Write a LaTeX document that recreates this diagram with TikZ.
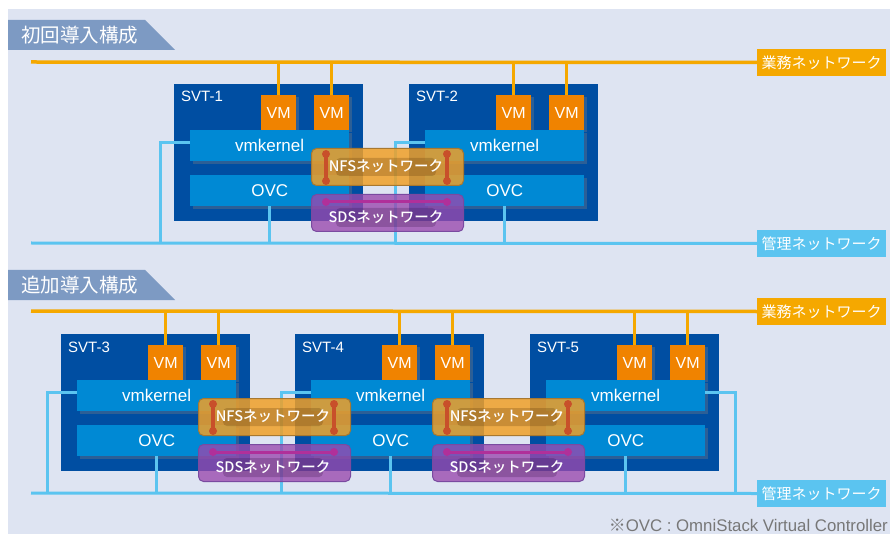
\documentclass[tikz,border=0pt]{standalone}
\usepackage{fontspec}
\setmainfont{Liberation Sans}
\newfontfamily\cjk{Noto Sans CJK JP}
\newfontfamily\cjkb{Noto Sans CJK JP Medium}
\usetikzlibrary{shadows,calc}
\definecolor{bgc}{HTML}{DEE4F2}
\definecolor{tabc}{HTML}{7D9AC3}
\definecolor{bizc}{HTML}{F5A800}
\definecolor{mgc}{HTML}{5BC4F0}
\definecolor{svtc}{HTML}{004EA2}
\definecolor{vmc}{HTML}{F08300}
\definecolor{kc}{HTML}{0089D4}
\definecolor{nfsc}{HTML}{F0A028}
\definecolor{nfsd}{HTML}{A87830}
\definecolor{nfsbar}{HTML}{C8502A}
\definecolor{sdsc}{HTML}{9A48AE}
\definecolor{sdsd}{HTML}{7A4AA0}
\definecolor{sdsbar}{HTML}{B0309A}
\definecolor{notec}{HTML}{777777}
\definecolor{nfsshade}{HTML}{4A2A00}
\definecolor{sdsshade}{HTML}{2A0A3A}
\tikzset{
  svtbox/.style={fill=svtc, inner sep=0, minimum width=189pt, minimum height=137pt, anchor=north west},
  vmbox/.style={fill=vmc, text=white, inner sep=0, minimum width=35pt, minimum height=35pt,
    anchor=north west, font=\fontsize{16}{16}\selectfont,
    drop shadow={shadow xshift=3pt, shadow yshift=-2pt, opacity=0.35}},
  kbox/.style={fill=kc, text=white, inner sep=0, minimum width=159pt, minimum height=31pt,
    anchor=north west, font=\fontsize{17}{16}\selectfont,
    drop shadow={shadow xshift=3pt, shadow yshift=-3pt, opacity=0.35}},
  svtlabel/.style={text=white, inner sep=0, anchor=base west, font=\fontsize{15}{15}\selectfont},
  bizline/.style={draw=bizc, line width=3.5pt},
  mgline/.style={draw=mgc, line width=3pt},
  bizlabel/.style={fill=bizc, text=white, inner sep=0, minimum width=129pt, minimum height=27pt,
    anchor=west, font=\cjk\fontsize{15}{15}\selectfont},
  mglabel/.style={fill=mgc, text=white, inner sep=0, minimum width=129pt, minimum height=27pt,
    anchor=west, font=\cjk\fontsize{15}{15}\selectfont},
  tabshape/.style={fill=tabc},
  tabtext/.style={text=white, inner sep=0, anchor=west, font=\cjk\fontsize{19.5}{19.5}\selectfont},
  nfsbox/.style={fill=nfsc, fill opacity=0.85, draw=nfsd, line width=1pt, rounded corners=5pt,
    inner sep=0, minimum width=152pt, minimum height=37pt, anchor=north west},
  sdsbox/.style={fill=sdsc, fill opacity=0.78, draw=sdsd, line width=1pt, rounded corners=5pt,
    inner sep=0, minimum width=152pt, minimum height=37pt, anchor=north west},
  nfsbarst/.style={draw=nfsbar, line width=3.5pt},
  sdsbarst/.style={draw=sdsbar, line width=3pt},
  nfsglow/.style={fill=nfsshade, opacity=0.22, rounded corners=4pt},
  sdsglow/.style={fill=sdsshade, opacity=0.22, rounded corners=4pt},
  nettext/.style={text=white, inner sep=0, font=\cjkb\fontsize{14.5}{14.5}\selectfont},
  notetext/.style={text=notec, inner sep=0, anchor=base east, font=\fontsize{16.8}{16.8}\selectfont}
}
\newcommand\svtunit[4]{%
  \begin{scope}[shift={(#2,#3)}]
    \node[svtbox] (#1) at (0,0) {};
    \node[svtlabel] (#1lab) at (7,18) {#4};
    \node[vmbox] (#1vma) at (87,11) {VM};
    \node[vmbox] (#1vmb) at (140,11) {VM};
    \node[kbox] (#1vmk) at (16,46) {vmkernel};
    \node[kbox] (#1ovc) at (16,91) {OVC};
  \end{scope}}
\newcommand\netpair[3]{%
  \begin{scope}[shift={(#2,#3)}]
    \node[nfsbox] (#1nfs) at (137,64) {};
    \node[sdsbox] (#1sds) at (137,110) {};
    \draw[nfsbarst] (152,70) -- (152,97);
    \draw[nfsbarst] (273,70) -- (273,97);
    \fill[nfsbar] (152,70) circle (4) (152,97) circle (4) (273,70) circle (4) (273,97) circle (4);
    \draw[sdsbarst] (152,118) -- (273,118);
    \fill[sdsbar] (152,118) circle (4) (273,118) circle (4);
    \fill[nfsglow] (162,74) rectangle (262,92);
    \fill[sdsglow] (162,124) rectangle (262,143);
    \node[nettext] (#1nfst) at (212,82.5) {NFSネットワーク};
    \node[nettext] (#1sdst) at (212,133) {SDSネットワーク};
  \end{scope}}
\begin{document}
\begin{tikzpicture}[x=1pt,y=-1pt]
\useasboundingbox (0,0) rectangle (890,534);
\fill[white] (0,0) rectangle (890,534);
\fill[bgc] (8,9) rectangle (890,534);
% ---------- section 1 ----------
\fill[tabshape] (8,20) -- (145,20) -- (175,50) -- (8,50) -- cycle;
\node[tabtext] (tab1) at (21,35) {初回導入構成};
\coordinate (biz1L) at (31,62);
\coordinate (mg1L) at (31,243);
\node[bizlabel] (biz1) at (757,62.5) {業務ネットワーク};
\node[mglabel] (mg1) at (757,243.5) {管理ネットワーク};
\draw[bizline] (biz1L) -- (biz1.west);
\draw[mgline] (mg1L) -- (mg1.west);
\svtunit{s1}{174}{84}{SVT-1}
\svtunit{s2}{409}{84}{SVT-2}
\foreach \s in {s1,s2}{
  \draw[bizline] (\s vma.north) -- (\s vma.north |- biz1L);
  \draw[bizline] (\s vmb.north) -- (\s vmb.north |- biz1L);
  \draw[mgline] (\s ovc.south) -- (\s ovc.south |- mg1L);
  \coordinate (\s k) at ($([yshift=3.5pt]\s vmk.west)+(-30,0)$);
  \draw[mgline] ([yshift=3.5pt]\s vmk.west) -- (\s k) -- (\s k |- mg1L);
}
\netpair{n1}{174}{84}
% ---------- section 2 ----------
\fill[tabshape] (8,270) -- (145,270) -- (175,300) -- (8,300) -- cycle;
\node[tabtext] (tab2) at (21,285) {追加導入構成};
\coordinate (biz2L) at (31,311);
\coordinate (mg2L) at (31,493);
\node[bizlabel] (biz2) at (757,311.5) {業務ネットワーク};
\node[mglabel] (mg2) at (757,493.5) {管理ネットワーク};
\draw[bizline] (biz2L) -- (biz2.west);
\draw[mgline] (mg2L) -- (mg2.west);
\svtunit{s3}{61}{334}{SVT-3}
\svtunit{s4}{295}{334}{SVT-4}
\svtunit{s5}{530}{334}{SVT-5}
\foreach \s in {s3,s4,s5}{
  \draw[bizline] (\s vma.north) -- (\s vma.north |- biz2L);
  \draw[bizline] (\s vmb.north) -- (\s vmb.north |- biz2L);
  \draw[mgline] (\s ovc.south) -- (\s ovc.south |- mg2L);
}
\foreach \s in {s3,s4}{
  \coordinate (\s k) at ($([yshift=3.5pt]\s vmk.west)+(-30,0)$);
  \draw[mgline] ([yshift=3.5pt]\s vmk.west) -- (\s k) -- (\s k |- mg2L);
}
\coordinate (s5k) at ($([yshift=3.5pt]s5vmk.east)+(30,0)$);
\draw[mgline] ([yshift=3.5pt]s5vmk.east) -- (s5k) -- (s5k |- mg2L);
\netpair{n3}{61}{334}
\netpair{n4}{295}{334}
% footnote
\node[notetext] (note) at (888,531) {{\cjk ※}OVC : OmniStack Virtual Controller};
\end{tikzpicture}
\end{document}
